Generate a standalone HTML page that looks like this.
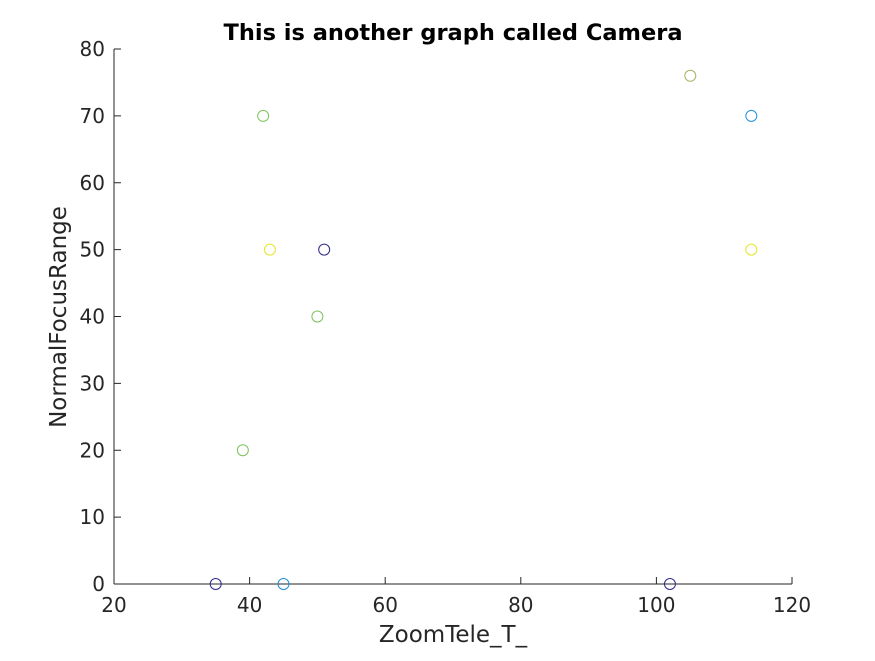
<!DOCTYPE html>
<html><head><meta charset="utf-8"><style>
body{margin:0;background:#fff;}
svg text{font-family:"DejaVu Sans","Liberation Sans",sans-serif;}
</style></head><body>
<svg id="chart" width="875" height="656" xmlns="http://www.w3.org/2000/svg">
<rect width="875" height="656" fill="#fff"/>
<g id="axes"></g>
<g id="points"></g>
<text x="453" y="40" text-anchor="middle" font-size="22.5" font-weight="bold" fill="#000">This is another graph called Camera</text>
<text x="453" y="642" text-anchor="middle" font-size="23" fill="#262626">ZoomTele_T_</text>
<text transform="translate(66,317) rotate(-90)" text-anchor="middle" font-size="23" fill="#262626">NormalFocusRange</text>
</svg>
<script>
const xVals=[35,45,39,42,43,50,51,102,105,114,114];
const yVals=[0,0,20,70,50,40,50,0,76,70,50];
const colors=["#2e2a8e","#1f8fd8","#7cc35c","#7cc35c","#e6e62a","#7cc35c","#2e2a8e","#2e2a8e","#a8b060","#1f8fd8","#e6e62a"];
const xTicks=[20,40,60,80,100,120];
const yTicks=[0,10,20,30,40,50,60,70,80];
const X0=114,X1=792,Y0=584,Y1=49;
const xs=v=>X0+(v-20)/100*(X1-X0);
const ys=v=>Y0-(v-0)/80*(Y0-Y1);
const NS="http://www.w3.org/2000/svg";
const ax=document.getElementById('axes');
function mk(t,a,p){const e=document.createElementNS(NS,t);for(const k in a)e.setAttribute(k,a[k]);p.appendChild(e);return e;}
let l=mk('line',{x1:X0,y1:Y0,x2:X1,y2:Y0,stroke:'#262626'},ax);


l=mk('line',{x1:X0,y1:Y0,x2:X0,y2:Y1,stroke:'#262626'},ax);


xTicks.forEach(t=>{const x=xs(t);
 const k=mk('line',{x1:x,y1:Y0,x2:x,y2:Y0-7,stroke:'#262626'},ax);
 
 
 const tx=mk('text',{x:x,y:Y0+28,'text-anchor':'middle','font-size':20,fill:'#262626'},ax);tx.textContent=t;
 
 });
yTicks.forEach(t=>{const y=ys(t);
 const k=mk('line',{x1:X0,y1:y,x2:X0+7,y2:y,stroke:'#262626'},ax);
 
 
 const tx=mk('text',{x:X0-9,y:y+7,'text-anchor':'end','font-size':20,fill:'#262626'},ax);tx.textContent=t;
 
 });
const pg=document.getElementById('points');
xVals.forEach((v,i)=>{const c=mk('circle',{cx:xs(v),cy:ys(yVals[i]),r:5.5,fill:'none',stroke:colors[i],'stroke-width':1},pg);
 
 });
</script>
</body></html>
